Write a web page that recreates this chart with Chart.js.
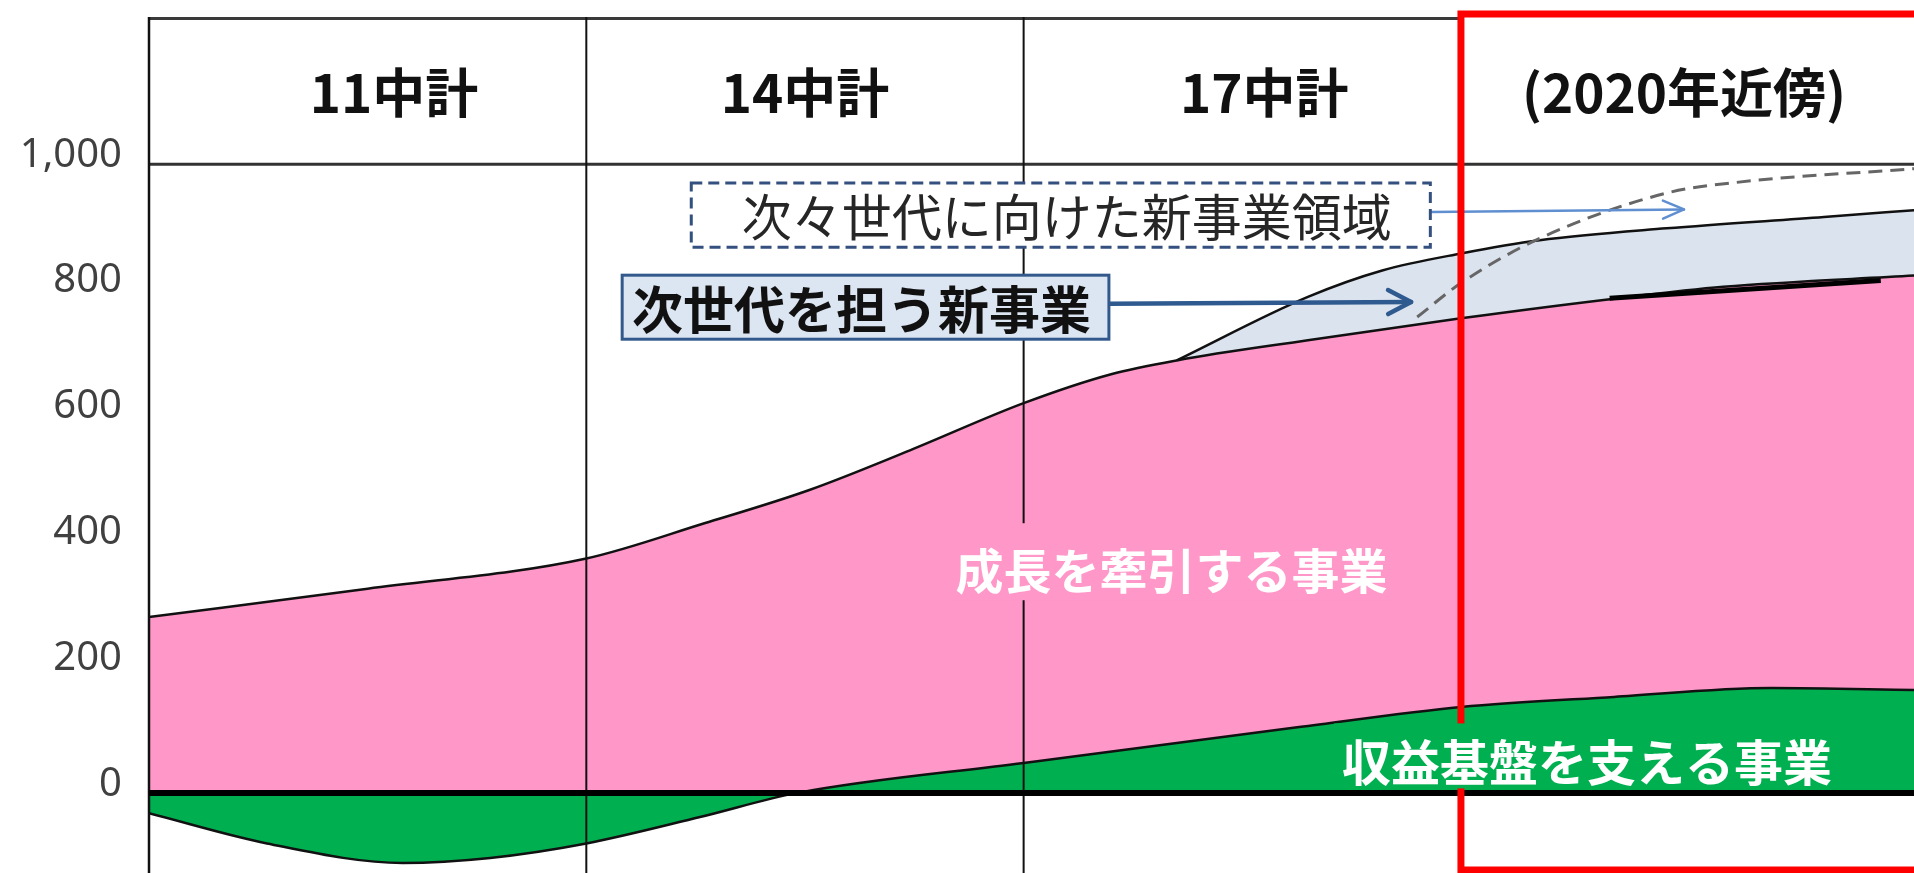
<!DOCTYPE html>
<html lang="ja">
<head>
<meta charset="UTF-8">
<title>事業ポートフォリオの推移</title>
<script src="https://cdn.jsdelivr.net/npm/chart.js"></script>
<style>
  html, body { margin: 0; padding: 0; background: #ffffff; }
  #wrap { width: 1914px; height: 873px; }
</style>
</head>
<body>
<div id="wrap"><canvas id="portfolioChart" width="1914" height="873"></canvas></div>
<script>
// columns = mid-term plans, x = column index (0..4)
const columns = ['11中計', '14中計', '17中計', '(2020年近傍)'];
const columnTitleX = [0.56, 1.50, 2.55, 3.51];
const columnEdges = [0, 1, 2];
const yTicks = [0, 200, 400, 600, 800, 1000];

// 成長を牽引する事業 (top edge of the pink area)
const growthX = [0, 0.5, 1.0, 1.27, 1.51, 1.74, 2.0, 2.2, 2.35, 2.65, 3.0, 3.36, 3.6, 4.04];
const growthY = [280, 325, 373, 429, 482, 545, 620, 666, 688, 720, 755, 787, 805, 823];

// 収益基盤を支える事業 (green, negative at first)
const baseX = [0, 0.27, 0.58, 0.78, 1.0, 1.26, 1.48, 2.0, 2.63, 3.0, 3.35, 3.71, 4.04];
const baseY = [-32, -80, -111, -103, -80, -38, 0, 48, 105, 137, 153, 167, 164];

// 次世代を担う新事業 (upper edge of the light blue band)
const nextX = [2.35, 2.65, 2.82, 3.0, 3.18, 3.47, 3.83, 4.04];
const nextY = [688, 789, 831, 858, 879, 898, 916, 927];

// 次々世代に向けた新事業領域 (dashed)
const futureX = [2.90, 3.0, 3.18, 3.47, 3.63, 4.04];
const futureY = [757, 811, 882, 954, 971, 993];

// short bold stroke lying on the pink edge
const strokeX = [3.34, 3.96];
const strokeY = [787, 815];

const pts = (xs, ys) => xs.map((x, i) => ({ x: x, y: ys[i] }));

function line(ctx, x0, y0, x1, y1, w, c) {
    ctx.beginPath();
    ctx.lineWidth = w;
    ctx.strokeStyle = c;
    ctx.moveTo(x0, y0);
    ctx.lineTo(x1, y1);
    ctx.stroke();
}

function arrow(ctx, x0, y0, x1, y1, color, width, head, spread) {
    ctx.save();
    ctx.strokeStyle = color;
    ctx.lineWidth = width;
    ctx.lineCap = 'round';
    ctx.lineJoin = 'round';
    ctx.beginPath();
    ctx.moveTo(x0, y0);
    ctx.lineTo(x1, y1);
    ctx.stroke();
    const a = Math.atan2(y1 - y0, x1 - x0);
    ctx.beginPath();
    ctx.moveTo(x1 - head * Math.cos(a) + spread * Math.sin(a), y1 - head * Math.sin(a) - spread * Math.cos(a));
    ctx.lineTo(x1, y1);
    ctx.lineTo(x1 - head * Math.cos(a) - spread * Math.sin(a), y1 - head * Math.sin(a) + spread * Math.cos(a));
    ctx.stroke();
    ctx.restore();
}

const decorations = {
    id: 'decorations',
    afterDatasetsDraw(chart) {
        const { ctx, chartArea: area, scales: { x, y } } = chart;
        const px = v => x.getPixelForValue(v);
        const py = v => y.getPixelForValue(v);
        ctx.save();

        // header band and column dividers
        line(ctx, area.left, area.top + 1.5, px(3), area.top + 1.5, 3, '#3a3a3a');
        line(ctx, area.left, py(1000), area.right, py(1000), 3, '#333333');
        columnEdges.forEach(c => {
            line(ctx, px(c), area.top, px(c), area.bottom, c === 0 ? 2.5 : 2, '#111111');
        });

        // zero line
        line(ctx, area.left, py(0), area.right, py(0), 6, '#000000');

        // arrows from the callouts
        arrow(ctx, px(2.195), py(778), px(2.886), py(781), '#2f5a8f', 4.5, 23, 12);
        arrow(ctx, px(2.932), py(924), px(3.51), py(928), '#5f8fd0', 2.5, 21, 9);

        // red frame round the 2020 column
        ctx.strokeStyle = '#ff0000';
        ctx.lineWidth = 7;
        ctx.setLineDash([]);
        ctx.strokeRect(px(3), 14, area.right - px(3) + 40, 856);

        // dashed callout
        let bx0 = px(1.24), bx1 = px(2.93), by0 = py(970), by1 = py(868);
        ctx.fillStyle = '#ffffff';
        ctx.fillRect(bx0, by0, bx1 - bx0, by1 - by0);
        ctx.setLineDash([11, 6]);
        ctx.lineWidth = 3;
        ctx.strokeStyle = '#34507e';
        ctx.strokeRect(bx0, by0, bx1 - bx0, by1 - by0);
        ctx.setLineDash([]);
        ctx.textAlign = 'center';
        ctx.textBaseline = 'middle';
        ctx.fillStyle = '#262626';
        ctx.font = '400 50px "Noto Sans CJK JP"';
        ctx.fillText('次々世代に向けた新事業領域', (bx0 + bx1) / 2 + 6, (by0 + by1) / 2 + 2);

        // solid callout
        bx0 = px(1.082); bx1 = px(2.195); by0 = py(823.5); by1 = py(721.7);
        ctx.fillStyle = '#dce6f2';
        ctx.fillRect(bx0, by0, bx1 - bx0, by1 - by0);
        ctx.lineWidth = 3;
        ctx.strokeStyle = '#33598c';
        ctx.strokeRect(bx0, by0, bx1 - bx0, by1 - by0);
        ctx.fillStyle = '#111111';
        ctx.font = '700 51px "Noto Sans CJK JP"';
        ctx.fillText('次世代を担う新事業', (bx0 + bx1) / 2 - 4, (by0 + by1) / 2 + 2);

        // labels inside the areas, on a patch of their own colour
        const inner = [
            { text: '成長を牽引する事業', x: 2.338, y: 356, size: 48, bg: '#ff97c8', up: 46, down: 31 },
            { text: '収益基盤を支える事業', x: 3.288, y: 52, size: 49, bg: '#00b050', up: 37, down: 28 }
        ];
        inner.forEach(l => {
            ctx.font = '700 ' + l.size + 'px "Noto Sans CJK JP"';
            const cx = px(l.x), cy = py(l.y);
            const w = ctx.measureText(l.text).width;
            ctx.fillStyle = l.bg;
            ctx.fillRect(cx - w / 2 - 8, cy - l.up, w + 16, l.up + l.down);
            ctx.fillStyle = '#ffffff';
            ctx.fillText(l.text, cx, cy + 2);
        });

        // column titles
        ctx.fillStyle = '#111111';
        ctx.font = '700 53px "Noto Sans CJK JP"';
        const ty = (area.top + py(1000)) / 2 + 2;
        columns.forEach((c, i) => ctx.fillText(c, px(columnTitleX[i]), ty));

        ctx.restore();
    }
};

const curve = { pointRadius: 0, pointHoverRadius: 0, cubicInterpolationMode: 'monotone' };

new Chart(document.getElementById('portfolioChart'), {
    type: 'line',
    data: {
        datasets: [
            Object.assign({ label: '次世代を担う新事業', data: pts(nextX, nextY), borderColor: '#111111', borderWidth: 2.5, backgroundColor: '#dbe3ef', fill: 'origin', order: 5 }, curve),
            Object.assign({ label: '成長を牽引する事業', data: pts(growthX, growthY), borderColor: '#111111', borderWidth: 2.5, backgroundColor: '#ff97c8', fill: 'origin', order: 4 }, curve),
            Object.assign({ label: '収益基盤を支える事業', data: pts(baseX, baseY), borderColor: '#111111', borderWidth: 2.5, backgroundColor: '#00b050', fill: 'origin', order: 3 }, curve),
            Object.assign({ label: '次々世代に向けた新事業領域', data: pts(futureX, futureY), borderColor: '#666666', borderWidth: 3, borderDash: [14, 8], fill: false, order: 2 }, curve),
            { label: 'stroke', data: pts(strokeX, strokeY), borderColor: '#000000', borderWidth: 5, pointRadius: 0, tension: 0, fill: false, order: 1 }
        ]
    },
    options: {
        responsive: false,
        animation: false,
        layout: { padding: { top: 17, right: 0, bottom: 0, left: 0 } },
        plugins: { legend: { display: false }, tooltip: { enabled: false } },
        scales: {
            x: { type: 'linear', min: 0, max: 4.036, display: false },
            y: {
                type: 'linear',
                min: -127,
                max: 1234,
                afterBuildTicks: s => { s.ticks = yTicks.map(v => ({ value: v })); },
                afterFit: s => { s.width = 149; s.paddingTop = 0; s.paddingBottom = 0; },
                grid: { display: false, drawTicks: false },
                border: { display: false },
                ticks: {
                    padding: 27,
                    labelOffset: -9,
                    color: '#404040',
                    font: { family: '"Noto Sans", sans-serif', size: 40 },
                    callback: v => v.toLocaleString('en-US')
                }
            }
        }
    },
    plugins: [decorations]
});
</script>
</body>
</html>
